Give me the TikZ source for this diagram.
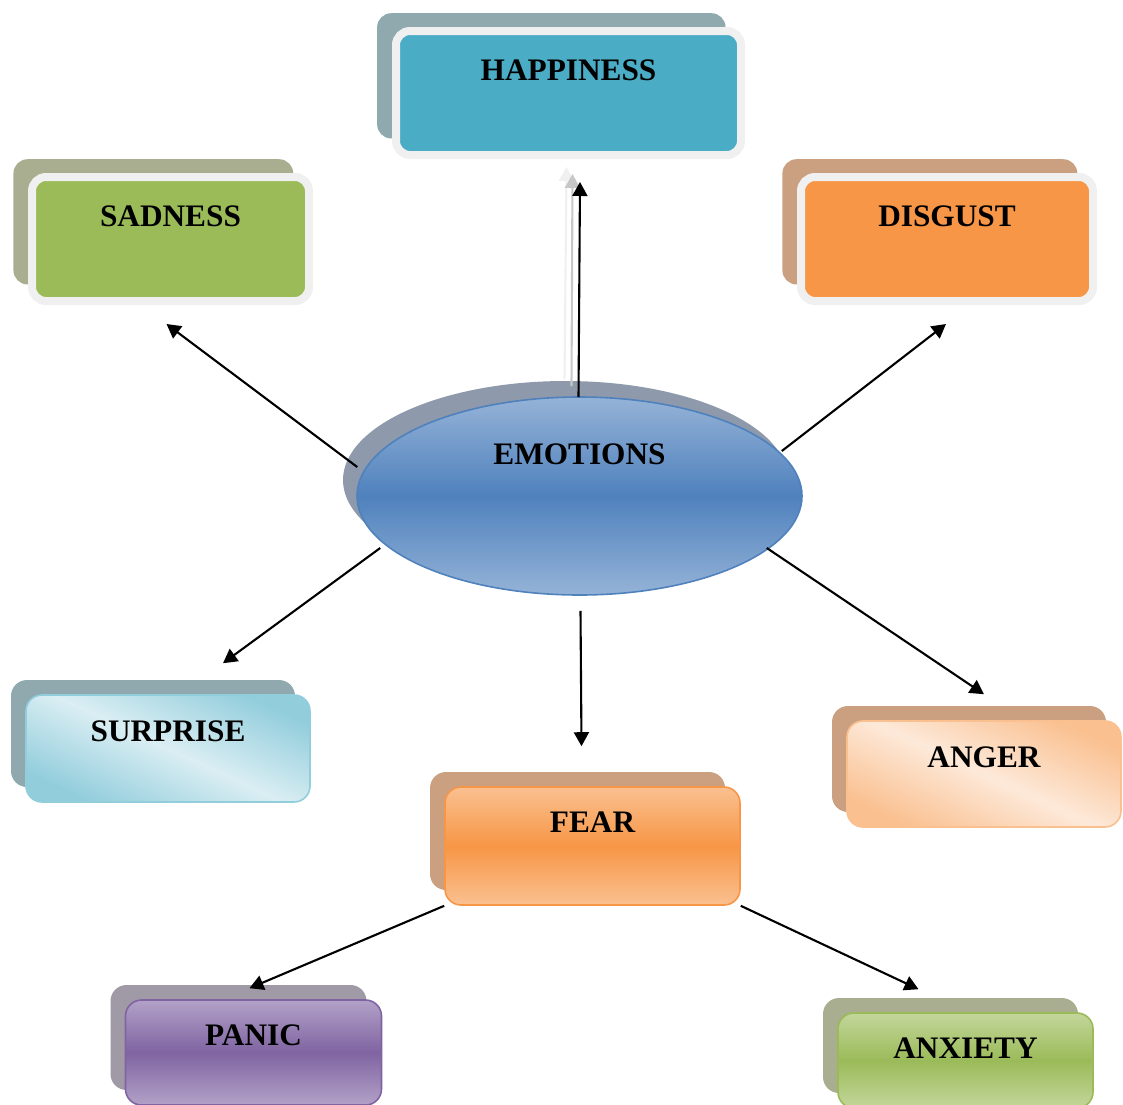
\documentclass[tikz,border=0pt]{standalone}
\usepackage{fontspec}
\setmainfont{Liberation Serif}
\usetikzlibrary{calc}
\usetikzlibrary{shapes.geometric,shadows,arrows.meta}

\definecolor{boxrim}{HTML}{F0F0F0}
\definecolor{hapfill}{HTML}{4BACC6}
\definecolor{sadfill}{HTML}{9BBB59}
\definecolor{disfill}{HTML}{F79646}
\definecolor{tealshade}{HTML}{8FA9AF}
\definecolor{greenshade}{HTML}{A8AE8F}
\definecolor{tanshade}{HTML}{CAA080}
\definecolor{purpleshade}{HTML}{A09AA6}
\definecolor{emoshade}{HTML}{8E9AAB}
\definecolor{emolight}{HTML}{95B3D7}
\definecolor{emomid}{HTML}{4F81BD}
\definecolor{surlight}{HTML}{DAEEF3}
\definecolor{surdark}{HTML}{92CDDC}
\definecolor{fearlight}{HTML}{FAC090}
\definecolor{anglight}{HTML}{FDE9D9}
\definecolor{panlight}{HTML}{B2A1C7}
\definecolor{panmid}{HTML}{8064A2}
\definecolor{anxlight}{HTML}{C3D69B}

\begin{document}
\begin{tikzpicture}[x=1pt,y=-1pt,
  every node/.style={font=\bfseries\fontsize{31.3}{36}\selectfont, inner sep=0pt},
  topbox/.style={rounded corners=14pt, draw=boxrim, line width=8pt,
    minimum height=124pt, text height=49pt, text depth=75pt},
  softbox/.style={rounded corners=16pt, line width=1.6pt},
  backing/.style={drop shadow={shadow xshift=-15pt, shadow yshift=15pt,
    opacity=1, fill=#1}},
  topbacking/.style={drop shadow={shadow xshift=-17pt, shadow yshift=17pt,
    shadow scale=1.01, opacity=1, fill=#1}},
  arr/.style={-{Triangle[length=14pt,width=15pt]}, line width=2.1pt},
  ghost/.style={arr, draw=#1, color=#1}]

  \useasboundingbox (0,0) rectangle (1123,1104);
  \clip (0,0) rectangle (1123,1104);

  % centre
  \node[ellipse, minimum width=445pt, minimum height=198pt, draw=emomid,
    line width=1.6pt, drop shadow={shadow xshift=-14pt, shadow yshift=16pt,
    opacity=1, fill=emoshade}, top color=emolight, bottom color=emolight,
    middle color=emomid, text height=22pt, text depth=86pt]
    (emo) at (579.5,496) {EMOTIONS};

  % top row
  \node[topbox, fill=hapfill, minimum width=345pt, topbacking=tealshade]
    (hap) at (568.5,93) {HAPPINESS};
  \node[topbox, fill=sadfill, minimum width=277pt, topbacking=greenshade]
    (sad) at (170.5,239) {SADNESS};
  \node[topbox, fill=disfill, minimum width=292pt, topbacking=tanshade]
    (dis) at (947,239) {DISGUST};

  % middle row
  \node[softbox, draw=surdark, top color=surdark, bottom color=surdark,
    middle color=surlight, shading angle=-25, backing=tealshade,
    minimum width=284pt, minimum height=107pt, text height=46pt, text depth=61pt]
    (sur) at (168,748.5) {SURPRISE};
  \node[softbox, draw=disfill, top color=fearlight, bottom color=fearlight,
    middle color=disfill, backing=tanshade,
    minimum width=295pt, minimum height=118pt, text height=45pt, text depth=73pt]
    (fear) at (592.5,846) {FEAR};
  \node[softbox, draw=fearlight, top color=fearlight, bottom color=fearlight,
    middle color=anglight, shading angle=-25, backing=tanshade,
    minimum width=274pt, minimum height=106pt, text height=46pt, text depth=60pt]
    (ang) at (984,774) {ANGER};

  % bottom row
  \node[softbox, draw=panmid, top color=panlight, bottom color=panlight,
    middle color=panmid, backing=purpleshade,
    minimum width=256pt, minimum height=105pt, text height=45pt, text depth=60pt]
    (pan) at (253.5,1052.5) {PANIC};
  \node[softbox, draw=sadfill, top color=anxlight, bottom color=anxlight,
    middle color=sadfill, backing=greenshade,
    minimum width=255pt, minimum height=95pt, text height=45pt, text depth=50pt]
    (anx) at (965.5,1060.5) {ANXIETY};

  % arrows
  \draw[ghost=black!6] ($(emo.north)+(-15,-17)$) -- ($(hap.south)+(-2,8)$);
  \draw[ghost=black!22] ($(emo.north)+(-8,-10)$) -- ($(hap.south)+(4,15)$);
  \draw[arr] ($(emo.north)+(-1,1)$) -- ($(hap.south)+(11.5,23)$);
  \draw[arr] ($(emo.west)+(1,-29)$) -- ($(sad.south)+(-4,19)$);
  \draw[arr] ($(emo.east)+(-21,-45)$) -- ($(dis.south)+(-1,19)$);
  \draw[arr] ($(emo.west)+(24,52)$) -- ($(sur.north)+(55,-31)$);
  \draw[arr] ($(emo.south)+(1,15)$) -- ($(fear.north)+(-11,-40)$);
  \draw[arr] ($(emo.east)+(-36,52)$) -- ($(ang.north)+(0,-26)$);
  \draw[arr] (fear.south west) -- ($(pan.north)+(-4,-11)$);
  \draw[arr] (fear.south east) -- ($(anx.north)+(-47,-23)$);

\end{tikzpicture}
\end{document}
